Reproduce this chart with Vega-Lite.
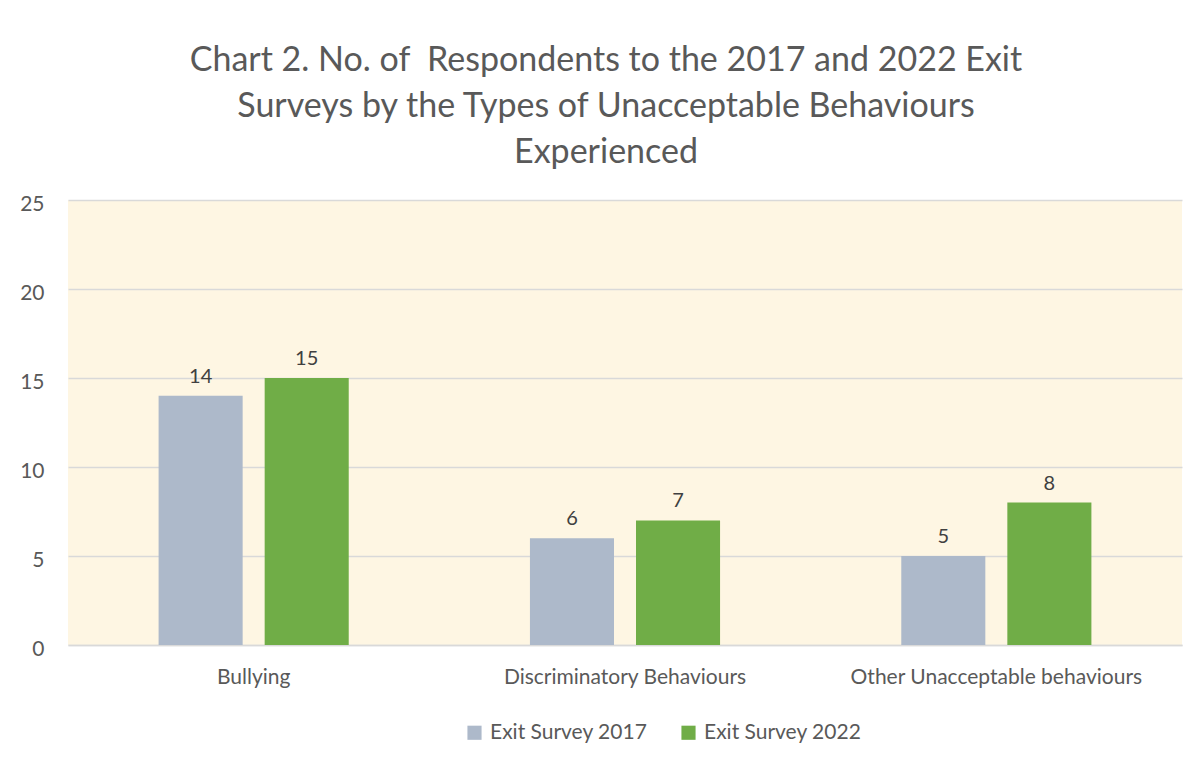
{
  "$schema": "https://vega.github.io/schema/vega-lite/v6.json",
  "autosize": "none",
  "width": 1114,
  "height": 445,
  "padding": {"left": 68, "top": 200, "right": 18, "bottom": 115},
  "background": "white",
  "title": {
    "text": ["Chart 2. No. of \u00a0Respondents to the 2017 and 2022 Exit", "Surveys by the Types of Unacceptable Behaviours", "Experienced"],
    "font": "Lato",
    "fontSize": 34,
    "fontWeight": "normal",
    "color": "#595959",
    "lineHeight": 46,
    "anchor": "middle",
    "frame": "group",
    "dx": -19,
    "offset": 23
  },
  "data": {
    "values": [
      {"category": "Bullying", "survey": "Exit Survey 2017", "value": 14},
      {"category": "Bullying", "survey": "Exit Survey 2022", "value": 15},
      {"category": "Discriminatory Behaviours", "survey": "Exit Survey 2017", "value": 6},
      {"category": "Discriminatory Behaviours", "survey": "Exit Survey 2022", "value": 7},
      {"category": "Other Unacceptable behaviours", "survey": "Exit Survey 2017", "value": 5},
      {"category": "Other Unacceptable behaviours", "survey": "Exit Survey 2022", "value": 8}
    ]
  },
  "encoding": {
    "x": {
      "field": "category",
      "type": "nominal",
      "sort": null,
      "scale": {"paddingInner": 0.488, "paddingOuter": 0.244},
      "axis": {
        "title": null,
        "labelAngle": 0,
        "labelFont": "Lato",
        "labelFontSize": 21,
        "labelColor": "#595959",
        "labelPadding": 21,
        "labelLimit": 0,
        "ticks": false,
        "domainColor": "#D9D9D9",
        "domainWidth": 1.5,
        "grid": false
      }
    },
    "xOffset": {
      "field": "survey",
      "type": "nominal",
      "scale": {"paddingInner": 0.2075, "paddingOuter": 0}
    },
    "y": {
      "field": "value",
      "type": "quantitative",
      "scale": {"domain": [0, 25]},
      "axis": {
        "title": null,
        "values": [0, 5, 10, 15, 20, 25],
        "labelFont": "Lato",
        "labelFontSize": 21,
        "labelColor": "#595959",
        "labelPadding": 24,
        "labelOffset": 4,
        "ticks": false,
        "domain": false,
        "gridColor": "#D9D9D9",
        "gridWidth": 1.5
      }
    }
  },
  "layer": [
    {
      "mark": {"type": "bar"},
      "encoding": {
        "color": {
          "field": "survey",
          "type": "nominal",
          "scale": {"domain": ["Exit Survey 2017", "Exit Survey 2022"], "range": ["#ADB9CA", "#70AD47"]},
          "legend": {
            "title": null,
            "orient": "none",
            "direction": "horizontal",
            "legendX": 396,
            "legendY": 522,
            "symbolType": "square",
            "symbolSize": 200,
            "symbolStrokeWidth": 0,
            "labelFont": "Lato",
            "labelFontSize": 21,
            "labelColor": "#595959",
            "columnPadding": 30,
            "labelOffset": 5,
            "labelLimit": 0
          }
        }
      }
    },
    {
      "mark": {"type": "text", "baseline": "bottom", "dy": -9, "font": "Lato", "fontSize": 20, "color": "#404040"},
      "encoding": {
        "text": {"field": "value", "type": "quantitative"}
      }
    }
  ],
  "config": {
    "view": {"fill": "#FEF6E3", "stroke": null}
  }
}
